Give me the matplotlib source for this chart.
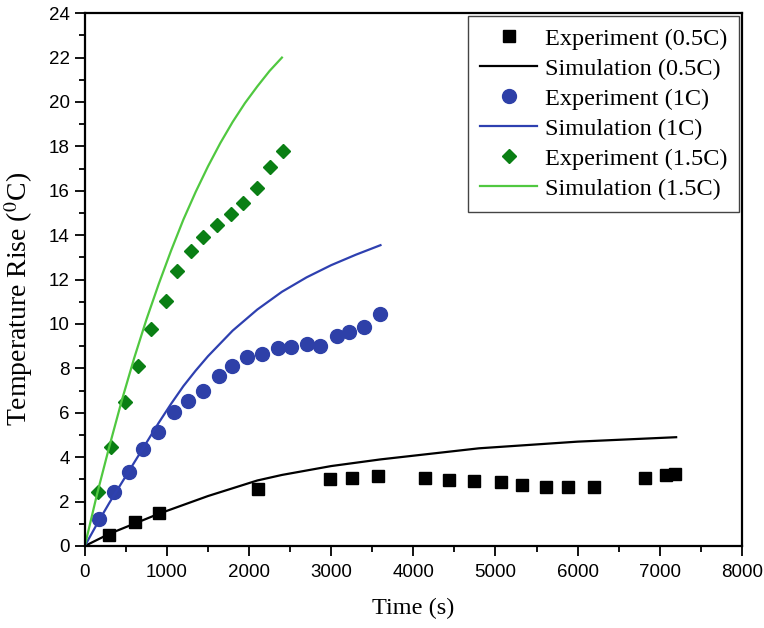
import matplotlib
matplotlib.use("Agg")
import matplotlib.pyplot as plt
from matplotlib.ticker import MultipleLocator

# experiment 0.5C
t_exp_05 = [292, 609, 901, 2107, 2984, 3252, 3569, 4141, 4434, 4738, 5067,
            5323, 5615, 5883, 6200, 6821, 7077, 7186]
dT_exp_05 = [0.50, 1.08, 1.49, 2.57, 3.02, 3.06, 3.15, 3.06, 2.97, 2.93, 2.88,
             2.75, 2.66, 2.66, 2.66, 3.06, 3.20, 3.24]

# simulation 0.5C
t_sim_05 = [0, 300, 600, 900, 1200, 1500, 1800, 2100, 2400, 3000, 3600, 4200,
            4800, 5400, 6000, 6600, 7200]
dT_sim_05 = [0, 0.55, 1.0, 1.45, 1.85, 2.25, 2.6, 2.95, 3.2, 3.6, 3.9, 4.15,
             4.4, 4.55, 4.7, 4.8, 4.9]

# experiment 1C
t_exp_1 = [174, 357, 540, 710, 897, 1084, 1258, 1441, 1636, 1795, 1969, 2152,
           2355, 2505, 2700, 2862, 3065, 3220, 3403, 3593]
dT_exp_1 = [1.2, 2.45, 3.35, 4.37, 5.12, 6.02, 6.53, 7.0, 7.67, 8.12, 8.5,
            8.65, 8.92, 8.95, 9.1, 9.0, 9.46, 9.63, 9.85, 10.44]

# simulation 1C
t_sim_1 = [0, 150, 300, 450, 600, 750, 900, 1050, 1200, 1350, 1500, 1800, 2100,
           2400, 2700, 3000, 3300, 3600]
dT_sim_1 = [0, 1.0, 1.95, 2.85, 3.75, 4.65, 5.55, 6.4, 7.2, 7.9, 8.55, 9.7,
            10.65, 11.45, 12.1, 12.65, 13.12, 13.55]

# experiment 1.5C
t_exp_15 = [162, 317, 487, 649, 804, 983, 1124, 1291, 1441, 1604, 1774, 1929,
            2091, 2253, 2408]
dT_exp_15 = [2.42, 4.47, 6.47, 8.1, 9.76, 11.05, 12.39, 13.3, 13.93, 14.45,
             14.95, 15.46, 16.14, 17.09, 17.79]

# simulation 1.5C
t_sim_15 = [0, 150, 300, 450, 600, 750, 900, 1050, 1200, 1350, 1500, 1650,
            1800, 1950, 2100, 2250, 2400]
dT_sim_15 = [0, 2.35, 4.5, 6.55, 8.45, 10.2, 11.8, 13.3, 14.7, 15.95, 17.1,
             18.15, 19.1, 19.95, 20.7, 21.4, 22.0]

plt.rcParams["mathtext.fontset"] = "stix"

fig = plt.figure(figsize=(7.64, 6.28), dpi=100)
ax = fig.add_axes([0.111, 0.1306, 0.86, 0.8484])

ax.plot(t_exp_05, dT_exp_05, "s", color="black", ms=8.5, label="Experiment (0.5C)")
ax.plot(t_sim_05, dT_sim_05, "-", color="black", lw=1.6, label="Simulation (0.5C)")
ax.plot(t_exp_1, dT_exp_1, "o", color="#2e40a8", ms=10, label="Experiment (1C)")
ax.plot(t_sim_1, dT_sim_1, "-", color="#2e40b0", lw=1.6, label="Simulation (1C)")
ax.plot(t_exp_15, dT_exp_15, "D", color="#0a7f14", ms=7.6, label="Experiment (1.5C)")
ax.plot(t_sim_15, dT_sim_15, "-", color="#50c840", lw=1.6, label="Simulation (1.5C)")

ax.set_xlim(0, 8000)
ax.set_ylim(0, 24)
ax.xaxis.set_major_locator(MultipleLocator(1000))
ax.xaxis.set_minor_locator(MultipleLocator(500))
ax.yaxis.set_major_locator(MultipleLocator(2))
ax.yaxis.set_minor_locator(MultipleLocator(1))
ax.tick_params(which="both", direction="out", top=False, right=False,
               width=1.3, labelsize=13.5)
ax.tick_params(axis="x", pad=6)
ax.tick_params(axis="y", pad=4)
ax.tick_params(which="major", length=7)
ax.tick_params(which="minor", length=4)
for lbl in ax.get_xticklabels() + ax.get_yticklabels():
    lbl.set_family("Liberation Sans")
for s in ax.spines.values():
    s.set_linewidth(1.6)

ax.set_xlabel("Time (s)", family="Liberation Serif", fontsize=17.5, labelpad=12)
ax.set_ylabel("Temperature Rise ($^0$C)", family="Liberation Serif", fontsize=20)
ax.yaxis.set_label_coords(-0.076, 0.463)

leg = ax.legend(loc="upper right", numpoints=1, fancybox=False,
                prop={"family": "Liberation Serif", "size": 17.5},
                borderaxespad=0.1, labelspacing=0.33, handlelength=2.35,
                handletextpad=0.3, borderpad=0.5, framealpha=1)
leg.get_frame().set_edgecolor("#444444")
leg.get_frame().set_linewidth(1.0)

fig.savefig("out.png", dpi=100)
